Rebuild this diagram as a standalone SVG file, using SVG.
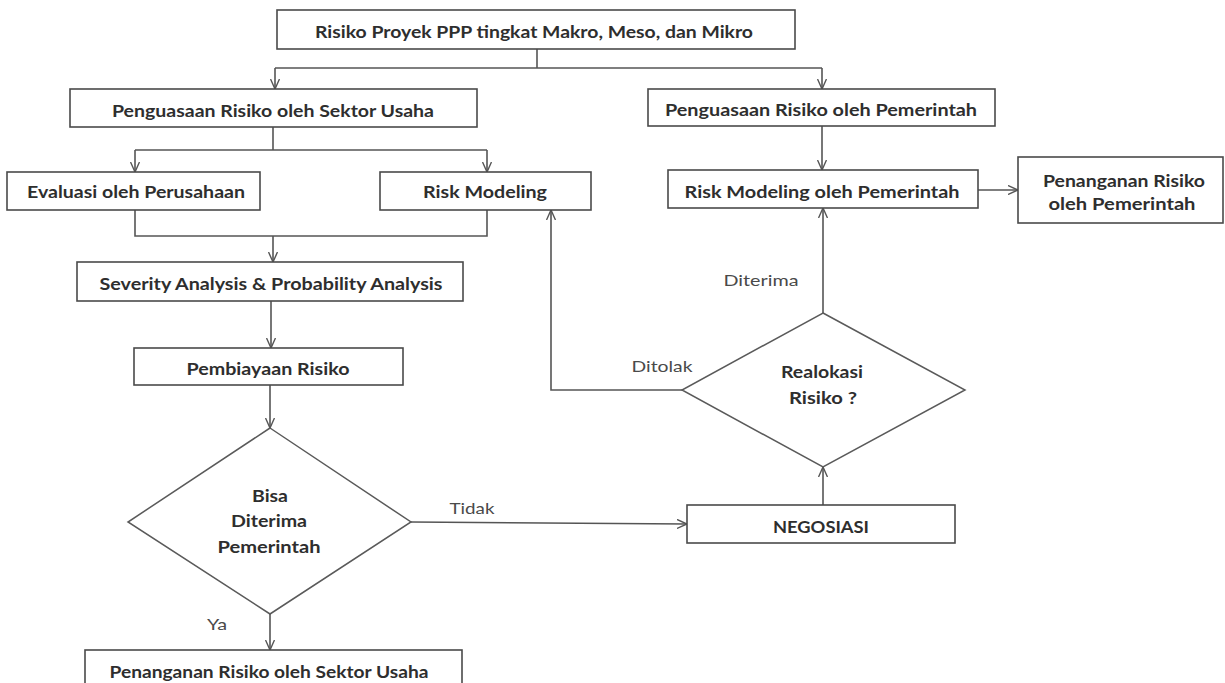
<svg xmlns="http://www.w3.org/2000/svg" width="1225" height="683" viewBox="0 0 1225 683">
<style>
.box{fill:#fff;stroke:#4a4a4a;stroke-width:1.6}
.dia{fill:#fff;stroke:#5a5a5a;stroke-width:1.5}
.t{font-family:Lato,"Liberation Sans",sans-serif;font-weight:bold;font-size:17px;fill:#2e2e2e;text-anchor:middle;dominant-baseline:central}
.l{font-family:Lato,"Liberation Sans",sans-serif;font-size:16px;fill:#4a4a4a;text-anchor:middle;dominant-baseline:central}
.c{fill:none;stroke:#555;stroke-width:1.6}
</style>
<defs>
<marker id="ar" viewBox="0 0 10 10" refX="10" refY="5" markerWidth="10" markerHeight="10" markerUnits="userSpaceOnUse" orient="auto">
<path d="M0,0.5 L10,5 L0,9.5" fill="none" stroke="#555" stroke-width="1.4"/>
</marker>
</defs>
<rect width="1225" height="683" fill="#fff"/>
<g id="connectors">
<path class="c" d="M537,49 V68 M275,68 H822"/>
<path class="c" d="M275,68 V89" marker-end="url(#ar)"/>
<path class="c" d="M822,68 V89" marker-end="url(#ar)"/>
<path class="c" d="M273,127 V150 M135,150 H487"/>
<path class="c" d="M135,150 V172" marker-end="url(#ar)"/>
<path class="c" d="M487,150 V172" marker-end="url(#ar)"/>
<path class="c" d="M135,210 V236 H487 V210"/>
<path class="c" d="M273,236 V262" marker-end="url(#ar)"/>
<path class="c" d="M271,301 V348" marker-end="url(#ar)"/>
<path class="c" d="M270,385 V428" marker-end="url(#ar)"/>
<path class="c" d="M270,614 V650" marker-end="url(#ar)"/>
<path class="c" d="M411,522 L687,524" marker-end="url(#ar)"/>
<path class="c" d="M823,505 V467" marker-end="url(#ar)"/>
<path class="c" d="M823,313 V208" marker-end="url(#ar)"/>
<path class="c" d="M682,390 H551 V210" marker-end="url(#ar)"/>
<path class="c" d="M822,126 V170" marker-end="url(#ar)"/>
<path class="c" d="M978,190 H1018" marker-end="url(#ar)"/>
<text class="l" x="472" y="507" textLength="45" lengthAdjust="spacingAndGlyphs">Tidak</text>
<text class="l" x="217" y="623" textLength="20" lengthAdjust="spacingAndGlyphs">Ya</text>
<text class="l" x="761" y="279" textLength="75" lengthAdjust="spacingAndGlyphs">Diterima</text>
<text class="l" x="662" y="365" textLength="61" lengthAdjust="spacingAndGlyphs">Ditolak</text>
</g>
<g id="n_top">
<rect class="box" x="277" y="10" width="518" height="39"/>
<text class="t" x="534" y="31" textLength="438" lengthAdjust="spacingAndGlyphs">Risiko Proyek PPP tingkat Makro, Meso, dan Mikro</text>
</g>
<g id="n_sektor">
<rect class="box" x="70" y="89" width="407" height="38"/>
<text class="t" x="273" y="110" textLength="322" lengthAdjust="spacingAndGlyphs">Penguasaan Risiko oleh Sektor Usaha</text>
</g>
<g id="n_pemerintah">
<rect class="box" x="648" y="89" width="347" height="37"/>
<text class="t" x="821" y="109" textLength="312" lengthAdjust="spacingAndGlyphs">Penguasaan Risiko oleh Pemerintah</text>
</g>
<g id="n_evaluasi">
<rect class="box" x="7" y="172" width="253" height="38"/>
<text class="t" x="136" y="191" textLength="218" lengthAdjust="spacingAndGlyphs">Evaluasi oleh Perusahaan</text>
</g>
<g id="n_riskmodeling">
<rect class="box" x="380" y="172" width="211" height="38"/>
<text class="t" x="485" y="191" textLength="124" lengthAdjust="spacingAndGlyphs">Risk Modeling</text>
</g>
<g id="n_severity">
<rect class="box" x="77" y="262" width="386" height="39"/>
<text class="t" x="271" y="283" textLength="343" lengthAdjust="spacingAndGlyphs">Severity Analysis &amp; Probability Analysis</text>
</g>
<g id="n_pembiayaan">
<rect class="box" x="134" y="348" width="269" height="37"/>
<text class="t" x="268" y="368" textLength="163" lengthAdjust="spacingAndGlyphs">Pembiayaan Risiko</text>
</g>
<g id="n_bisa">
<polygon class="dia" points="270,428 411,522 270,614 128,522"/>
<text class="t" x="270" y="495" textLength="36" lengthAdjust="spacingAndGlyphs">Bisa</text>
<text class="t" x="269" y="520" textLength="76" lengthAdjust="spacingAndGlyphs">Diterima</text>
<text class="t" x="269" y="546" textLength="103" lengthAdjust="spacingAndGlyphs">Pemerintah</text>
</g>
<g id="n_penanganan_sektor">
<rect class="box" x="85" y="650" width="377" height="42"/>
<text class="t" x="269" y="671" textLength="319" lengthAdjust="spacingAndGlyphs">Penanganan Risiko oleh Sektor Usaha</text>
</g>
<g id="n_negosiasi">
<rect class="box" x="687" y="505" width="268" height="38"/>
<text class="t" x="821" y="526" textLength="96" lengthAdjust="spacingAndGlyphs">NEGOSIASI</text>
</g>
<g id="n_realokasi">
<polygon class="dia" points="823,313 965,390 823,467 682,390"/>
<text class="t" x="822" y="371" textLength="82" lengthAdjust="spacingAndGlyphs">Realokasi</text>
<text class="t" x="823" y="397" textLength="68" lengthAdjust="spacingAndGlyphs">Risiko ?</text>
</g>
<g id="n_riskmodeling_pem">
<rect class="box" x="668" y="170" width="310" height="38"/>
<text class="t" x="822" y="191" textLength="275" lengthAdjust="spacingAndGlyphs">Risk Modeling oleh Pemerintah</text>
</g>
<g id="n_penanganan_pem">
<rect class="box" x="1018" y="157" width="205" height="66"/>
<text class="t" x="1124" y="180" textLength="162" lengthAdjust="spacingAndGlyphs">Penanganan Risiko</text>
<text class="t" x="1122" y="203" textLength="147" lengthAdjust="spacingAndGlyphs">oleh Pemerintah</text>
</g>
</svg>
